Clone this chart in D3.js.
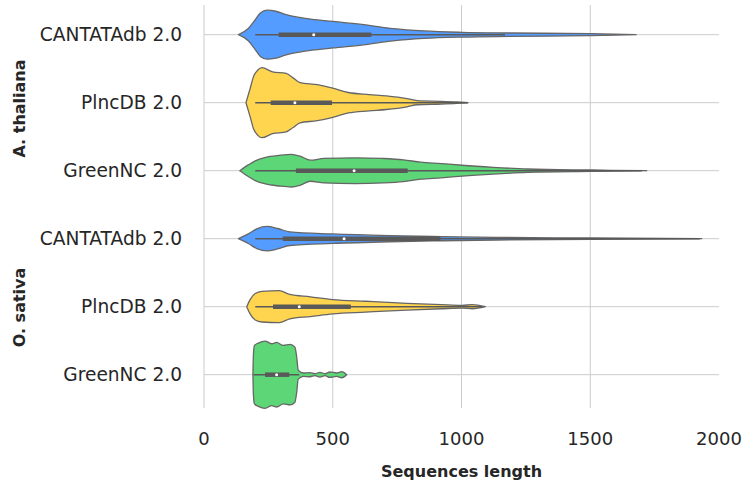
<!DOCTYPE html>
<html>
<head>
<meta charset="utf-8">
<script src="https://cdn.jsdelivr.net/npm/d3@7"></script>
<style>
  body { margin: 0; background: #fff; }
  svg { display: block; font-family: "DejaVu Sans", sans-serif; }
</style>
</head>
<body>
<div id="chart"></div>
<script>
/* Horizontal violin plots of lncRNA sequence length per database and species */

const species = ["A. thaliana", "O. sativa"];
const databases = ["CANTATAdb 2.0", "PlncDB 2.0", "GreenNC 2.0"];
const xTicks = [0, 500, 1000, 1500, 2000];

// density profiles: [sequence length, relative density]
const athCantata = [[134,0],[172,0.18],[199,0.44],[219,0.64],[245,0.72],[279,0.69],[319,0.59],[386,0.49],[500,0.39],[627,0.29],[734,0.18],[854,0.11],[1002,0.07],[1189,0.05],[1503,0.03],[1678,0]];
const athPlnc = [[163,0],[179,0.41],[192,0.76],[209,0.96],[225,1.03],[266,0.91],[319,0.86],[346,0.73],[373,0.59],[440,0.53],[500,0.43],[560,0.30],[641,0.24],[708,0.20],[788,0.12],[828,0.06],[922,0.04],[982,0.02],[1025,0]];
const athGreen = [[139,0],[172,0.17],[199,0.29],[239,0.39],[292,0.45],[339,0.48],[373,0.43],[413,0.31],[466,0.36],[587,0.38],[694,0.36],[774,0.32],[842,0.25],[922,0.21],[1002,0.16],[1123,0.10],[1257,0.05],[1505,0.02],[1719,0]];
const osaCantata = [[134,0],[172,0.14],[205,0.29],[245,0.36],[286,0.30],[333,0.20],[500,0.14],[721,0.09],[922,0.06],[1136,0.04],[1505,0.02],[1933,0]];
const osaPlnc = [[166,0],[179,0.21],[199,0.39],[225,0.45],[292,0.47],[333,0.36],[413,0.29],[500,0.21],[627,0.16],[788,0.10],[922,0.06],[1002,0.04],[1042,0.06],[1093,0]];
const osaGreen = [[190,0],[192,0.6],[196,0.86],[211,0.93],[237,0.99],[263,0.91],[282,0.95],[308,0.86],[334,0.89],[353,0.81],[360,0.52],[366,0.13],[386,0.05],[412,0.06],[431,0.03],[450,0.07],[470,0.03],[489,0.08],[515,0.05],[535,0.09],[554,0]];

// box stats: [whisker low, q1, median, q3, whisker high]
const boxStats = [
  [199, 290, 426, 650, 1169],
  [199, 259, 353, 497, 1025],
  [199, 357, 583, 791, 1700],
  [199, 306, 544, 918, 1925],
  [199, 268, 370, 570, 1080],
  [192, 237, 282, 331, 370]
];

const densities = [athCantata, athPlnc, athGreen, osaCantata, osaPlnc, osaGreen];
const colors = { "CANTATAdb 2.0": "#549cff", "PlncDB 2.0": "#ffd54f", "GreenNC 2.0": "#5cd677" };
const speciesLabelY = [108.5, 307.5];

const rows = [];
species.forEach((sp, si) => databases.forEach((db, di) => {
  const k = si * databases.length + di;
  rows.push({ key: k, species: sp, db, dens: densities[k], box: boxStats[k] });
}));

const width = 743, height = 481;
const margin = { top: 5, right: 24, bottom: 73, left: 204 };

const svg = d3.select("#chart").append("svg")
  .attr("width", width)
  .attr("height", height);

const x = d3.scaleLinear()
  .domain([0, 2000])
  .range([margin.left, width - margin.right]);

const y = d3.scaleBand()
  .domain(rows.map(d => d.key))
  .range([0.7, 408.7]);

const half = y.bandwidth() / 2;
const w = d3.scaleLinear().domain([0, 1]).range([0, half]);
const cy = k => y(k) + half;

// Grid
svg.append("g")
  .selectAll("line")
  .data(xTicks.slice(0, -1))
  .join("line")
  .attr("x1", d => x(d)).attr("x2", d => x(d))
  .attr("y1", margin.top).attr("y2", height - margin.bottom)
  .attr("stroke", "#cccccc")
  .attr("stroke-width", 1);

svg.append("g")
  .selectAll("line")
  .data(rows)
  .join("line")
  .attr("x1", x(0)).attr("x2", x(2000))
  .attr("y1", d => cy(d.key)).attr("y2", d => cy(d.key))
  .attr("stroke", "#cccccc")
  .attr("stroke-width", 1);

// Violins
const area = d3.area()
  .curve(d3.curveMonotoneX)
  .x(d => x(d[0]));

const vio = svg.append("g")
  .selectAll("g")
  .data(rows)
  .join("g");

vio.append("path")
  .attr("d", d => area.y0(p => cy(d.key) - w(p[1])).y1(p => cy(d.key) + w(p[1]))(d.dens))
  .attr("fill", d => colors[d.db])
  .attr("stroke", "#666666")
  .attr("stroke-width", 1.3)
  .attr("stroke-linejoin", "round");

// Inner box
vio.append("line")
  .attr("x1", d => x(d.box[0])).attr("x2", d => x(d.box[4]))
  .attr("y1", d => cy(d.key)).attr("y2", d => cy(d.key))
  .attr("stroke", "#595959")
  .attr("stroke-width", 1.5);

vio.append("line")
  .attr("x1", d => x(d.box[1])).attr("x2", d => x(d.box[3]))
  .attr("y1", d => cy(d.key)).attr("y2", d => cy(d.key))
  .attr("stroke", "#595959")
  .attr("stroke-width", 4.5);

vio.append("circle")
  .attr("cx", d => x(d.box[2]))
  .attr("cy", d => cy(d.key))
  .attr("r", 1.5)
  .attr("fill", "#fff");

// Category labels
svg.append("g")
  .selectAll("text")
  .data(rows)
  .join("text")
  .attr("x", 182)
  .attr("y", d => cy(d.key))
  .attr("dy", "0.35em")
  .attr("text-anchor", "end")
  .attr("font-size", 18.6)
  .attr("fill", "#262626")
  .text(d => d.db);

// Species labels
svg.append("g")
  .selectAll("text")
  .data(species)
  .join("text")
  .attr("transform", (sp, i) => `translate(25, ${speciesLabelY[i]}) rotate(-90)`)
  .attr("text-anchor", "middle")
  .attr("font-size", 16)
  .attr("font-weight", "bold")
  .attr("fill", "#262626")
  .text(d => d);

// X axis tick labels
svg.append("g")
  .selectAll("text")
  .data(xTicks)
  .join("text")
  .attr("x", d => x(d))
  .attr("y", 445)
  .attr("text-anchor", "middle")
  .attr("font-size", 18)
  .attr("fill", "#262626")
  .text(d => d);

// X label
svg.append("text")
  .attr("x", (x(0) + x(2000)) / 2)
  .attr("y", 477)
  .attr("text-anchor", "middle")
  .attr("font-size", 16)
  .attr("font-weight", "bold")
  .attr("fill", "#262626")
  .text("Sequences length");
</script>
</body>
</html>
